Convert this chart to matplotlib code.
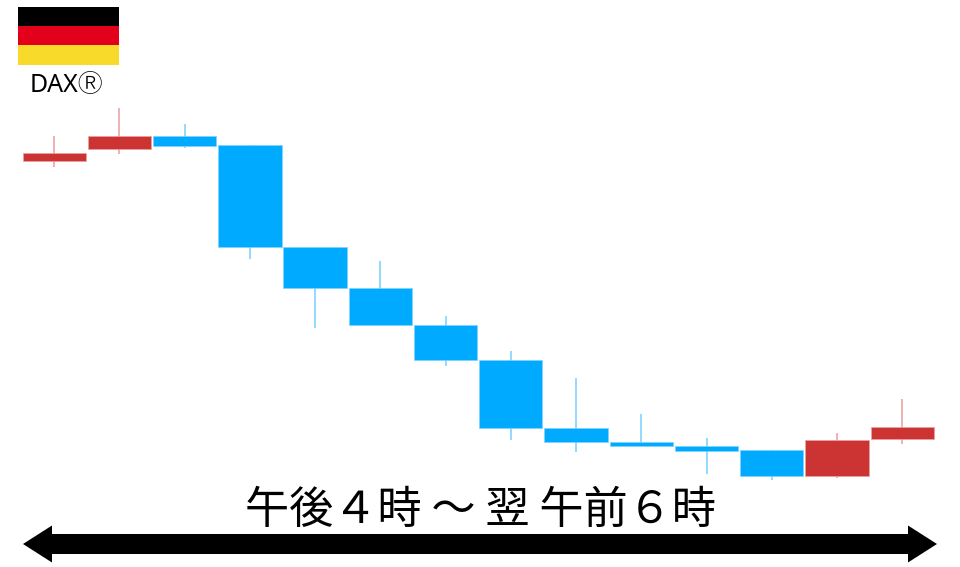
# candlestick sketch, DAX overnight session
import matplotlib
matplotlib.use('Agg')
import matplotlib.pyplot as plt
import numpy as np

plt.rcParams['font.family'] = ['Noto Sans CJK JP', 'DejaVu Sans']

# prices (arbitrary units, no axis in the original)
open_p = [406, 418, 431, 422, 320, 279, 242, 207, 139, 125, 121, 117, 91, 128]
close_p = [414, 431, 421, 320, 279, 242, 207, 139, 125, 121, 116, 91, 127, 140]
high_p = [431, 459, 443, 422, 320, 306, 251, 216, 189, 153, 129, 117, 134, 168]
low_p = [400, 413, 419, 308, 239, 242, 201, 127, 115, 121, 93, 87, 89, 123]

flag_colors = ['#000000', '#e2001a', '#f8da2b']
title = '午後４時 ～ 翌 午前６時'
name = 'DAXⓇ'

up_color = '#cc3333'
down_color = '#00aaff'
up_wick = '#eda3a3'
down_wick = '#80d4ff'

fig = plt.figure(figsize=(9.6, 5.67), dpi=100)

# candles
ax = fig.add_axes([0, 0, 1, 1])
ax.set_xlim(-0.83, 13.885)
ax.set_ylim(-0.2, 566.8)
ax.axis('off')

x = np.arange(len(open_p))
for i in x:
    is_up = close_p[i] > open_p[i]
    ax.vlines(i, low_p[i], high_p[i], color=up_wick if is_up else down_wick,
              linewidth=1.2, zorder=1)
    bottom = min(open_p[i], close_p[i])
    height = abs(close_p[i] - open_p[i])
    ax.bar(i, height, bottom=bottom, width=0.97,
           color=up_color if is_up else down_color,
           edgecolor=up_wick if is_up else down_wick, linewidth=0.5, zorder=2)

# overlay in pixels for the flag, labels and arrow
ov = fig.add_axes([0, 0, 1, 1])
ov.set_xlim(0, 960)
ov.set_ylim(567, 0)
ov.axis('off')
ov.patch.set_alpha(0)

for k, c in enumerate(flag_colors):
    ov.add_patch(plt.Rectangle((18, 6.5 + k * 19.4), 101, 19.4, color=c, lw=0))

ov.text(66.5, 85, name, fontsize=18, ha='center', va='center', color='black',
        family=['Noto Sans', 'Noto Sans CJK JP', 'DejaVu Sans'], fontweight='light')
ov.text(480, 510, title, fontsize=31.8, ha='center', va='center', color='black')

ov.add_patch(matplotlib.patches.FancyArrow(480, 544, 457, 0, width=20, head_width=37,
                                           head_length=29, length_includes_head=True,
                                           color='black', lw=0))
ov.add_patch(matplotlib.patches.FancyArrow(480, 544, -457, 0, width=20, head_width=37,
                                           head_length=29, length_includes_head=True,
                                           color='black', lw=0))

plt.savefig('out.png', dpi=100)
